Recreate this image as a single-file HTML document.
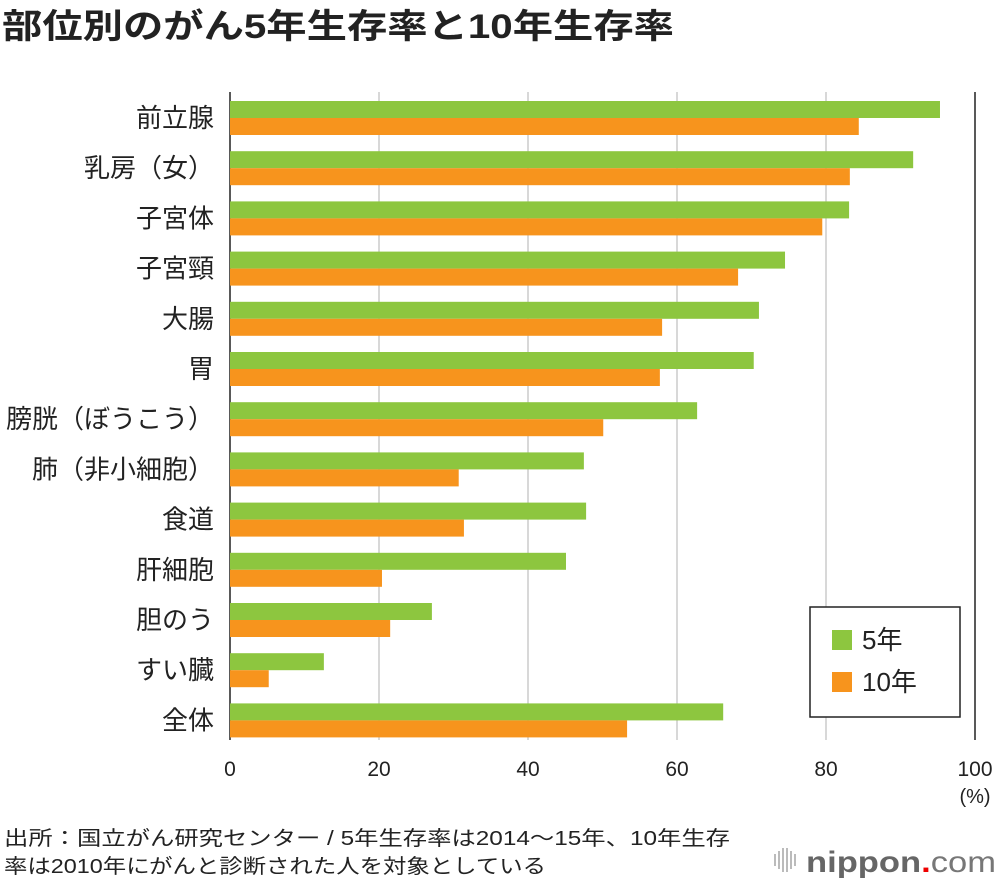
<!DOCTYPE html>
<html><head><meta charset="utf-8"><style>
body{margin:0;background:#fff;width:1000px;height:884px;overflow:hidden;font-family:"Liberation Sans","Noto Sans CJK JP",sans-serif;}
svg text{font-family:"Liberation Sans","Noto Sans CJK JP",sans-serif;}
</style></head><body>
<svg id="chart" width="1000" height="884" xmlns="http://www.w3.org/2000/svg">
<text x="2" y="38" font-size="34" font-weight="bold" fill="#222" textLength="672" lengthAdjust="spacingAndGlyphs">部位別のがん5年生存率と10年生存率</text>
<g id="grid"></g><g id="bars"></g><g id="labels"></g><g id="ticks"></g>
<text x="975" y="803" font-size="20" text-anchor="middle" fill="#222">(%)</text>
<g>
<rect x="810" y="607" width="150" height="110" fill="#fff" stroke="#222" stroke-width="1.5"/>
<rect x="832" y="630" width="20" height="20" fill="#8dc63f"/>
<text x="862" y="649" font-size="26" fill="#222">5年</text>
<rect x="832" y="672" width="20" height="20" fill="#f7941d"/>
<text x="862" y="691" font-size="26" fill="#222">10年</text>
</g>
<text x="4" y="845" font-size="20" fill="#222" textLength="726" lengthAdjust="spacingAndGlyphs">出所：国立がん研究センター / 5年生存率は2014～15年、10年生存</text>
<text x="4" y="873" font-size="20" fill="#222" textLength="542" lengthAdjust="spacingAndGlyphs">率は2010年にがんと診断された人を対象としている</text>
<g>
<g fill="#bbb"><rect x="774" y="854" width="2" height="12"/><rect x="778" y="851" width="2" height="18"/><rect x="782" y="848" width="2" height="24"/><rect x="786" y="848" width="2" height="24"/><rect x="790" y="851" width="2" height="18"/><rect x="794" y="854" width="2" height="12"/></g>
<text x="806" y="872" font-size="30" font-weight="bold" fill="#666" textLength="190" lengthAdjust="spacingAndGlyphs">nippon<tspan fill="#e00">.</tspan><tspan font-weight="normal" fill="#777">com</tspan></text>
</g>
</svg>
<script>
const categories=["前立腺","乳房（女）","子宮体","子宮頸","大腸","胃","膀胱（ぼうこう）","肺（非小細胞）","食道","肝細胞","胆のう","すい臓","全体"];
const fiveYear=[95.3,91.7,83.1,74.5,71.0,70.3,62.7,47.5,47.8,45.1,27.1,12.6,66.2];
const tenYear=[84.4,83.2,79.5,68.2,58.0,57.7,50.1,30.7,31.4,20.4,21.5,5.2,53.3];
const ticks=[0,20,40,60,80,100];
const NS="http://www.w3.org/2000/svg";
const X0=230,X1=975,plotTop=92,plotBottom=740,rowTop=101,pitch=50.2,bh=17;
const xs=v=>X0+(X1-X0)*v/100;
function mk(t,a,p){const e=document.createElementNS(NS,t);for(const k in a)e.setAttribute(k,a[k]);p.appendChild(e);return e;}
const grid=document.getElementById('grid'),bars=document.getElementById('bars'),labels=document.getElementById('labels'),tk=document.getElementById('ticks');
ticks.forEach(t=>{
 const edge=(t==0||t==100);
 const l=mk('line',{x1:xs(t),x2:xs(t),y1:plotTop,y2:plotBottom,stroke:edge?'#222':'#ccc','stroke-width':1.5},grid);
 
 
 const tx=mk('text',{x:xs(t),y:776,'font-size':21,'text-anchor':'middle',fill:'#222'},tk);
 tx.textContent=t;
 
 
});
categories.forEach((c,i)=>{
 const y=rowTop+pitch*i;
 const g=mk('rect',{x:X0,y:y,width:xs(fiveYear[i])-X0,height:bh,fill:'#8dc63f'},bars);
 
 
 const o=mk('rect',{x:X0,y:y+bh,width:xs(tenYear[i])-X0,height:bh,fill:'#f7941d'},bars);
 
 
 const t=mk('text',{x:214,y:y+bh+9,'font-size':26,'text-anchor':'end',fill:'#222'},labels);
 t.textContent=c;
 
 
});
</script>
</body></html>
